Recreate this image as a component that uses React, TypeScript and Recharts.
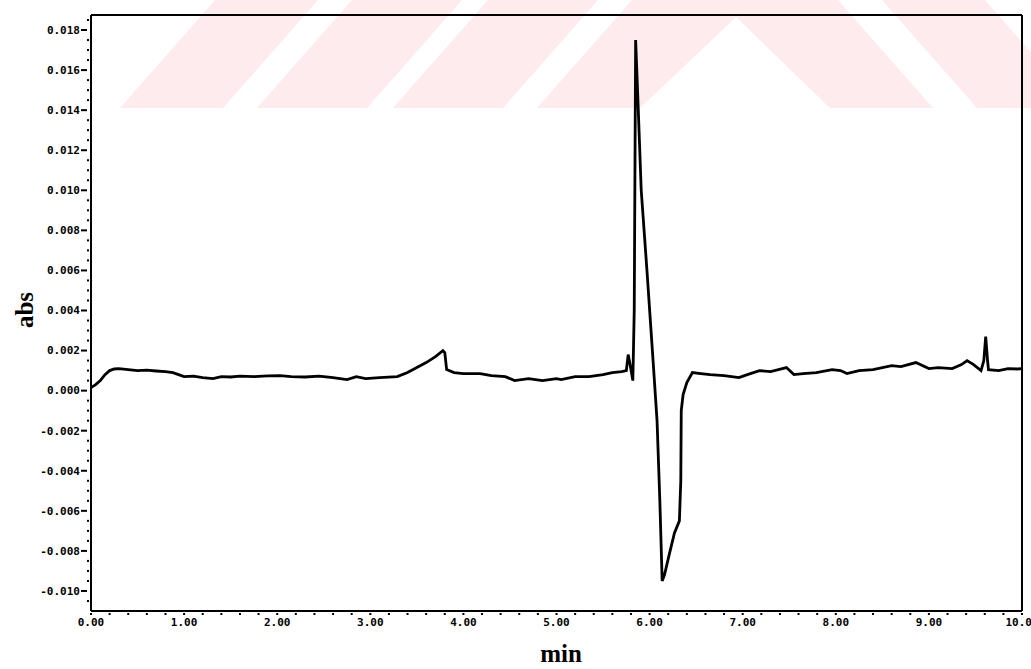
import { LineChart, Line, XAxis, YAxis, ReferenceLine, Customized } from 'recharts'

// retention time (min) and detector response (abs)
const times = [
  0.0, 0.05, 0.1, 0.15, 0.2, 0.25, 0.3, 0.4, 0.5, 0.6, 0.7, 0.8, 0.88, 0.94,
  1.0, 1.1, 1.2, 1.31, 1.4, 1.5, 1.6, 1.75, 1.9, 2.03, 2.15, 2.3, 2.45, 2.6,
  2.75, 2.85, 2.95, 3.1, 3.29, 3.4, 3.5, 3.6, 3.7, 3.78, 3.8, 3.82, 3.9, 4.0,
  4.18, 4.3, 4.45, 4.55, 4.7, 4.85, 5.0, 5.05, 5.2, 5.35, 5.5, 5.6, 5.7, 5.75,
  5.77, 5.79, 5.82, 5.835, 5.85, 5.877, 5.91, 5.97, 6.03, 6.08, 6.11, 6.135,
  6.16, 6.21, 6.267, 6.32, 6.335, 6.34, 6.36, 6.4, 6.46, 6.55, 6.65, 6.8, 6.96,
  7.05, 7.18, 7.3, 7.47, 7.55, 7.65, 7.79, 7.96, 8.05, 8.12, 8.25, 8.4, 8.6,
  8.7, 8.86, 9.0, 9.1, 9.25, 9.35, 9.41, 9.48, 9.56, 9.59, 9.61, 9.63, 9.64,
  9.75, 9.85, 9.95, 10.0,
]
const absorbance = [
  0.00015, 0.0003, 0.0005, 0.0008, 0.001, 0.00108, 0.0011, 0.00105, 0.001,
  0.00102, 0.00098, 0.00095, 0.0009, 0.0008, 0.0007, 0.00072, 0.00065, 0.0006,
  0.0007, 0.00068, 0.00072, 0.0007, 0.00074, 0.00075, 0.0007, 0.00068, 0.00072,
  0.00065, 0.00055, 0.0007, 0.0006, 0.00065, 0.0007, 0.0009, 0.00115, 0.0014,
  0.0017, 0.002, 0.0019, 0.00105, 0.0009, 0.00085, 0.00085, 0.00075, 0.0007,
  0.0005, 0.0006, 0.0005, 0.0006, 0.00055, 0.0007, 0.0007, 0.0008, 0.0009,
  0.00095, 0.001, 0.0018, 0.0013, 0.0005, 0.004, 0.0175, 0.0142, 0.01, 0.0061,
  0.002, -0.0015, -0.0055, -0.0095, -0.0092, -0.0082, -0.0071, -0.0065,
  -0.0045, -0.001, -0.0002, 0.0004, 0.0009, 0.00085, 0.0008, 0.00075, 0.00065,
  0.0008, 0.001, 0.00095, 0.00115, 0.0008, 0.00085, 0.0009, 0.00105, 0.001,
  0.00085, 0.001, 0.00105, 0.00125, 0.0012, 0.0014, 0.0011, 0.00115, 0.0011,
  0.0013, 0.0015, 0.0013, 0.001, 0.0015, 0.0027, 0.0015, 0.00105, 0.001,
  0.0011, 0.00108, 0.0011,
]

const X_DOMAIN = [0, 10]
const Y_DOMAIN = [-0.011, 0.01875]
// every 0.0005 abs and every 0.2 min; labels only on the big ones
const yTicks = Array.from({ length: 59 }, (_, i) => (i - 21) * 0.0005)
const xTicks = Array.from({ length: 51 }, (_, i) => Math.round(i * 2) / 10)

const data = times.map((t, i) => ({ t, a: absorbance[i] }))

const MONO = '"DejaVu Sans Mono", monospace'
const SERIF = '"Liberation Serif", "Times New Roman", serif'

const isMajorY = (v: number) => Math.abs(Math.round(v * 500) - v * 500) < 1e-6
const isMajorX = (v: number) => Math.abs(Math.round(v) - v) < 1e-6

const YTick = (props: any) => {
  const { x, y, payload } = props
  const v = payload.value
  if (!isMajorY(v)) {
    return <rect x={x - 4} y={y - 1} width={2} height={2} fill='#000' />
  }
  return (
    <g>
      <line x1={x - 10} x2={x - 4} y1={y} y2={y} stroke='#000' strokeWidth={2} />
      <text x={x - 11} y={y} dy='0.35em' textAnchor='end' fontFamily={MONO} fontWeight='bold' fontSize={11} fill='#000'>
        {v.toFixed(3)}
      </text>
    </g>
  )
}

const XTick = (props: any) => {
  const { x, y, payload } = props
  const v = payload.value
  if (!isMajorX(v)) {
    return <rect x={x - 1} y={y + 2} width={2} height={2} fill='#000' />
  }
  return (
    <g>
      <rect x={x - 1} y={y + 2} width={2} height={2} fill='#000' />
      <text x={x} y={y + 15} textAnchor='middle' fontFamily={MONO} fontWeight='bold' fontSize={11} fill='#000'>
        {v.toFixed(2)}
      </text>
    </g>
  )
}

// faint pink scanner watermark behind the top of the plot
const stripes = [
  '120,108 215,0 318,0 223,108',
  '257,108 352,0 462,0 367,108',
  '393,108 488,0 598,0 503,108',
  '537,108 632,0 838,0 933,108 830,108 736,17 640,108',
  '977,108 882,0 985,0 1080,108',
]

const Backdrop = () => (
  <g>
    {stripes.map((p, i) => (
      <polygon key={`wm-${i}`} points={p} fill='#fdebee' />
    ))}
    <text x={33} y={310} transform='rotate(-90, 33, 310)' textAnchor='middle' fontFamily={SERIF} fontWeight='bold' fontSize={25} fill='#000'>
      abs
    </text>
    <text x={561} y={662} textAnchor='middle' fontFamily={SERIF} fontWeight='bold' fontSize={25} fill='#000'>
      min
    </text>
  </g>
)

const App = () => {
  return (
    <div style={{ position: 'absolute', left: 0, top: 0, width: 1031, height: 669, overflow: 'hidden', background: '#fff' }}>
      <LineChart width={1031} height={669} data={data} margin={{ top: 15, right: 9, bottom: 28, left: 31 }}>
        <Customized component={Backdrop} />
        <XAxis
          dataKey='t'
          type='number'
          domain={X_DOMAIN}
          allowDataOverflow
          ticks={xTicks}
          interval={0}
          tick={<XTick />}
          tickLine={false}
          tickSize={0}
          tickMargin={0}
          height={30}
          axisLine={{ stroke: '#000', strokeWidth: 2 }}
        />
        <YAxis
          type='number'
          domain={Y_DOMAIN}
          allowDataOverflow
          ticks={yTicks}
          interval={0}
          tick={<YTick />}
          tickLine={false}
          tickSize={0}
          tickMargin={0}
          width={60}
          axisLine={{ stroke: '#000', strokeWidth: 2 }}
        />
        <ReferenceLine y={Y_DOMAIN[1]} stroke='#000' strokeWidth={2} />
        <ReferenceLine x={X_DOMAIN[1]} stroke='#000' strokeWidth={2} />
        <Line
          type='linear'
          dataKey='a'
          stroke='#000'
          strokeWidth={2.8}
          dot={false}
          isAnimationActive={false}
        />
      </LineChart>
    </div>
  )
}

export default App
